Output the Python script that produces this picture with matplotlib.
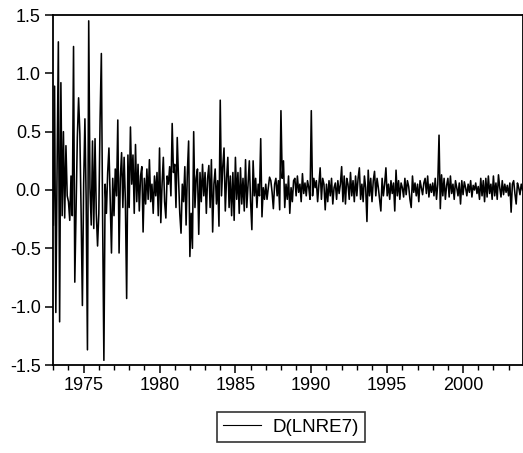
import matplotlib
matplotlib.use('Agg')
import matplotlib.pyplot as plt
from matplotlib.ticker import MultipleLocator
import numpy as np

# monthly first differences of log(RE7), Jan 1973 - Dec 2003
d1973 = [-0.30, 0.89, -1.05, 0.20, 1.27, -1.13, 0.92, -0.22, 0.50, -0.24, 0.38, -0.05]
d1974 = [-0.10, -0.26, 0.12, -0.22, 1.23, -0.79, -0.15, 0.45, 0.79, 0.48, -0.20, -0.99]
d1975 = [0.05, 0.61, -0.10, -1.37, 1.45, 0.02, -0.30, 0.42, -0.33, 0.44, -0.20, -0.48]
d1976 = [-0.20, 0.61, 1.17, -0.25, -1.46, 0.05, -0.20, 0.15, 0.36, -0.10, -0.54, 0.10]
d1977 = [-0.22, 0.18, -0.05, 0.60, -0.54, 0.10, 0.32, -0.15, 0.28, -0.10, -0.93, 0.30]
d1978 = [-0.15, 0.54, 0.05, 0.30, -0.20, 0.39, -0.10, 0.22, -0.18, 0.12, 0.20, -0.36]
d1979 = [0.10, -0.12, 0.18, -0.08, 0.26, -0.10, 0.05, -0.20, 0.12, -0.05, 0.15, -0.22]
d1980 = [0.36, -0.28, 0.05, 0.28, -0.10, -0.24, 0.12, 0.05, 0.20, -0.05, 0.57, 0.15]
d1981 = [0.22, -0.15, 0.45, 0.10, -0.20, -0.37, 0.05, -0.10, 0.20, -0.30, 0.15, 0.42]
d1982 = [-0.57, -0.20, -0.50, 0.50, -0.15, 0.10, 0.18, -0.38, 0.15, -0.10, 0.22, -0.05]
d1983 = [0.15, -0.20, 0.10, 0.21, -0.15, 0.26, -0.36, 0.05, 0.18, -0.12, 0.08, -0.31]
d1984 = [0.77, -0.05, 0.20, 0.36, -0.18, 0.10, 0.28, -0.15, 0.12, -0.22, 0.15, -0.26]
d1985 = [0.28, -0.08, 0.15, -0.20, 0.19, -0.12, 0.10, -0.18, 0.26, -0.15, 0.05, 0.25]
d1986 = [-0.10, -0.34, 0.25, -0.05, 0.10, -0.15, 0.05, -0.05, 0.44, -0.23, 0.02, -0.08]
d1987 = [0.05, -0.08, 0.02, 0.11, 0.08, -0.02, -0.16, 0.05, 0.10, -0.05, 0.08, -0.17]
d1988 = [0.68, 0.10, 0.25, -0.15, 0.05, -0.08, 0.12, -0.20, 0.02, -0.10, 0.08, 0.10]
d1989 = [-0.05, 0.12, -0.02, 0.05, -0.10, 0.14, -0.03, 0.06, -0.05, 0.08, 0.02, -0.08]
d1990 = [0.68, -0.05, 0.10, 0.02, 0.08, -0.10, 0.05, 0.19, -0.08, 0.10, 0.05, -0.17]
d1991 = [0.05, -0.10, 0.08, -0.05, 0.10, -0.12, 0.02, 0.06, -0.08, 0.08, -0.03, 0.05]
d1992 = [0.20, -0.10, 0.12, -0.12, 0.10, 0.05, -0.08, 0.15, -0.05, 0.08, -0.10, 0.12]
d1993 = [-0.05, 0.10, 0.19, -0.08, 0.05, -0.10, 0.12, 0.02, -0.27, 0.17, -0.05, 0.10]
d1994 = [-0.10, 0.08, 0.16, -0.05, 0.10, 0.02, -0.08, -0.18, 0.10, -0.05, 0.05, 0.19]
d1995 = [-0.05, 0.05, -0.08, 0.08, -0.03, 0.06, -0.18, 0.17, -0.05, 0.08, -0.08, 0.06]
d1996 = [0.02, -0.06, 0.10, -0.04, 0.08, 0.03, -0.08, -0.15, 0.12, -0.02, 0.06, -0.05]
d1997 = [0.05, -0.10, 0.08, 0.02, -0.04, 0.06, 0.10, -0.03, 0.12, -0.06, 0.05, -0.02]
d1998 = [0.06, -0.05, 0.10, -0.08, 0.05, 0.47, -0.16, 0.13, -0.05, 0.10, -0.08, 0.04]
d1999 = [0.10, -0.06, 0.12, -0.03, 0.05, -0.08, 0.08, 0.02, -0.05, 0.06, -0.12, 0.08]
d2000 = [-0.04, 0.07, 0.02, -0.05, 0.05, -0.02, 0.08, -0.06, 0.04, 0.00, 0.06, -0.03]
d2001 = [0.03, -0.08, 0.10, -0.05, 0.08, -0.10, 0.10, -0.06, 0.12, -0.03, 0.05, -0.08]
d2002 = [0.12, -0.05, 0.06, -0.08, 0.13, 0.02, -0.06, 0.08, -0.04, 0.05, -0.02, 0.04]
d2003 = [-0.05, 0.06, -0.19, 0.05, 0.08, -0.03, -0.12, 0.06, 0.02, -0.04, 0.05, 0.00]

years = list(range(1973, 2004))
series = [d1973, d1974, d1975, d1976, d1977, d1978, d1979, d1980, d1981, d1982,
          d1983, d1984, d1985, d1986, d1987, d1988, d1989, d1990, d1991, d1992,
          d1993, d1994, d1995, d1996, d1997, d1998, d1999, d2000, d2001, d2002,
          d2003]
x_labels = ['1975', '1980', '1985', '1990', '1995', '2000']
y_ticks = [-1.5, -1.0, -0.5, 0.0, 0.5, 1.0, 1.5]

values = np.concatenate(series)
dates = np.concatenate([[y + m / 12.0 for m in range(12)] for y in years])

plt.rcParams['font.family'] = ['Liberation Sans', 'DejaVu Sans']

fig = plt.figure(figsize=(5.23, 4.53), dpi=100)
ax = fig.add_axes([53.3 / 523, 88 / 453, (522.5 - 53.3) / 523, (365 - 15) / 453])

ax.plot(dates, values, color='black', lw=1.15, label='D(LNRE7)')

ax.set_xlim(dates[0], dates[-1])
ax.set_ylim(-1.5, 1.5)
ax.set_yticks(y_ticks)
ax.set_yticklabels([f'{v:.1f}' for v in y_ticks])
ax.set_xticks([int(s) for s in x_labels])
ax.set_xticklabels(x_labels)
ax.xaxis.set_minor_locator(MultipleLocator(1))

for sp in ax.spines.values():
    sp.set_linewidth(1.3)
ax.tick_params(axis='both', which='major', direction='out', length=6, width=1.1,
               labelsize=13, pad=3)
ax.tick_params(axis='x', which='minor', direction='out', length=3.5, width=1.0)

fig.legend(loc='center', bbox_to_anchor=(291 / 523, 1 - 427 / 453),
           fontsize=13.5, frameon=True, fancybox=False, edgecolor='black',
           handlelength=2.0, handletextpad=0.6, borderpad=0.32,
           borderaxespad=0)
leg = fig.legends[0]
leg.get_frame().set_linewidth(1.2)
for h in leg.get_lines():
    h.set_linewidth(0.8)

fig.savefig('out.png', dpi=100, facecolor='white')
